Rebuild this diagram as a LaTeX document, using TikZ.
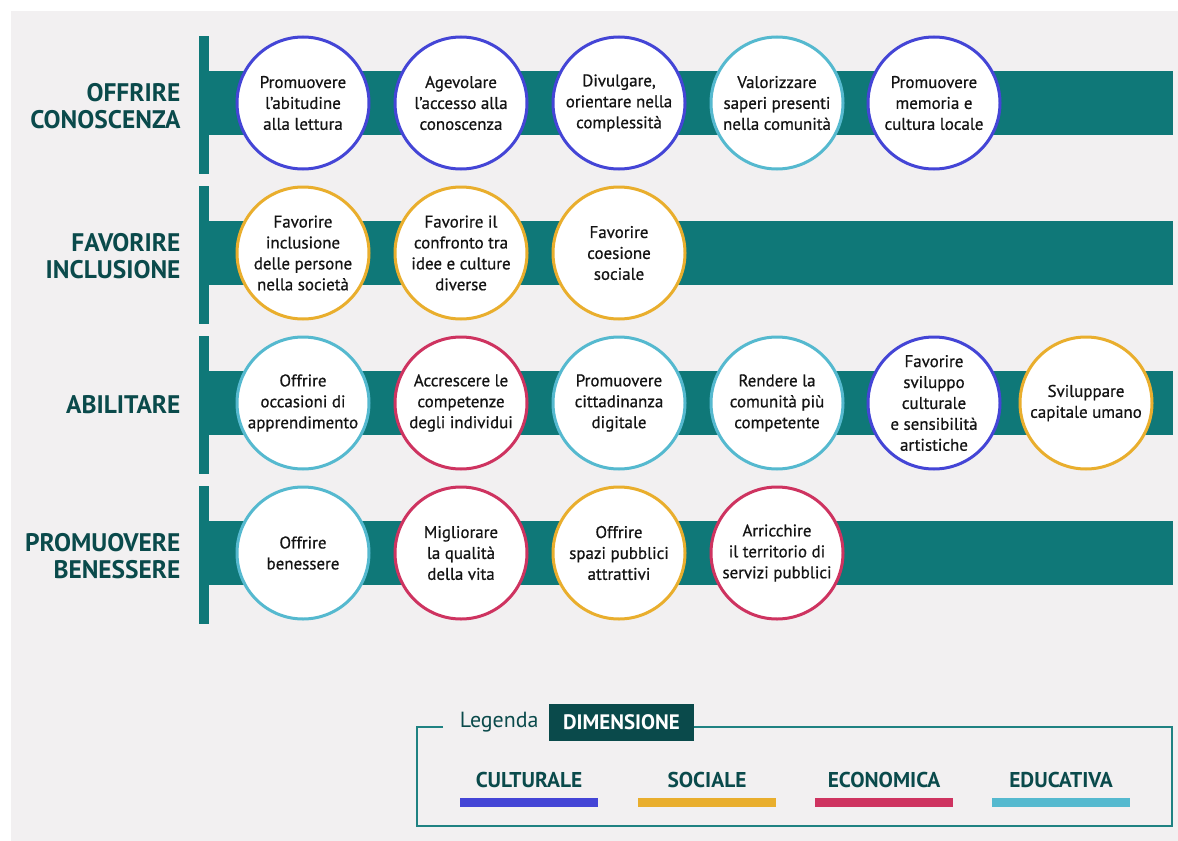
\documentclass[tikz,border=0pt]{standalone}
\usepackage{fontspec}
\setmainfont{PT Sans}
\newfontfamily\medfam{PT Sans}[FakeBold=0.7]
\definecolor{bg}{HTML}{F2F0F1}
\definecolor{band}{HTML}{0F7878}
\definecolor{dark}{HTML}{0A4A4B}
\definecolor{cult}{HTML}{4445D6}
\definecolor{soc}{HTML}{E9AE2D}
\definecolor{eco}{HTML}{CE3360}
\definecolor{edu}{HTML}{55B9CF}
\definecolor{txt}{HTML}{141414}
\definecolor{legline}{HTML}{1F8282}
\newcommand{\circfont}{\medfam\fontsize{17}{21}\selectfont}
\newcommand{\rowfont}{\fontsize{25.5}{27}\selectfont\bfseries}
\tikzset{
  bub/.style={circle, draw=#1, line width=3bp, fill=white, minimum size=132bp, inner sep=0pt, align=center, font=\circfont, text=txt},
  rowlab/.style={anchor=east, align=right, font=\rowfont, text=dark},
  legitem/.style={font=\fontsize{21.5}{24}\selectfont\bfseries, text=dark},
  legbar/.style={fill=#1, minimum width=138bp, minimum height=9bp, inner sep=0pt}
}
\begin{document}
\begin{tikzpicture}[x=1bp,y=-1bp]
\useasboundingbox (0,0) rectangle (1178,841);
\fill[bg] (11,11) rectangle (1178,841);
\foreach \k in {0,1,2,3}{
  \fill[band] (199,36+150*\k) rectangle (209,174+150*\k);
  \fill[band] (209,71+150*\k) rectangle (1173,135+150*\k);
}
% row labels
\node[rowlab] (r1) at (184,106) {OFFRIRE\\CONOSCENZA};
\node[rowlab] (r2) at (184,256) {FAVORIRE\\INCLUSIONE};
\node[rowlab] (r3) at (184,405) {ABILITARE};
\node[rowlab] (r4) at (184,556) {PROMUOVERE\\BENESSERE};
% row 1
\node[bub=cult] (c11) at (303,103) {Promuovere\\l’abitudine\\alla lettura};
\node[bub=cult] (c12) at (461,103) {Agevolare\\l’accesso alla\\conoscenza};
\node[bub=cult] (c13) at (619,103) {Divulgare,\\orientare nella\\complessità};
\node[bub=edu] (c14) at (777,103) {Valorizzare\\saperi presenti\\nella comunità};
\node[bub=cult] (c15) at (934,103) {Promuovere\\memoria e\\cultura locale};
% row 2
\node[bub=soc] (c21) at (303,253) {Favorire\\inclusione\\delle persone\\nella società};
\node[bub=soc] (c22) at (461,253) {Favorire il\\confronto tra\\idee e culture\\diverse};
\node[bub=soc] (c23) at (619,253) {Favorire\\coesione\\sociale};
% row 3
\node[bub=edu] (c31) at (303,403) {Offrire\\occasioni di\\apprendimento};
\node[bub=eco] (c32) at (461,403) {Accrescere le\\competenze\\degli individui};
\node[bub=edu] (c33) at (619,403) {Promuovere\\cittadinanza\\digitale};
\node[bub=edu] (c34) at (777,403) {Rendere la\\comunità più\\competente};
\node[bub=cult] (c35) at (934,403) {Favorire\\sviluppo\\culturale\\e sensibilità\\artistiche};
\node[bub=soc] (c36) at (1086,403) {Sviluppare\\capitale umano};
% row 4
\node[bub=edu] (c41) at (303,553) {Offrire\\benessere};
\node[bub=eco] (c42) at (461,553) {Migliorare\\la qualità\\della vita};
\node[bub=soc] (c43) at (619,553) {Offrire\\spazi pubblici\\attrattivi};
\node[bub=eco] (c44) at (777,553) {Arricchire\\il territorio di\\servizi pubblici};
% legend
\node[fill=dark, text=white, font=\fontsize{21}{22}\selectfont\bfseries, minimum width=145bp, minimum height=37bp, inner sep=0pt] (dim) at (621.5,722.5) {DIMENSIONE};
\node[anchor=east, text=dark, font=\fontsize{22}{24}\selectfont] (leg) at (542,722) {Legenda};
\coordinate (g1) at (443,727);
\coordinate (g2) at (694,727);
\draw[legline, line width=2bp] (g1) -- (417,727) -- (417,826) -- (1172,826) -- (1172,727) -- (g2);
\node[legitem] (l1) at (529,780) {CULTURALE};
\node[legitem] (l2) at (707,780) {SOCIALE};
\node[legitem] (l3) at (884,780) {ECONOMICA};
\node[legitem] (l4) at (1061,780) {EDUCATIVA};
\node[legbar=cult] (b1) at (529,802.5) {};
\node[legbar=soc] (b2) at (707,802.5) {};
\node[legbar=eco] (b3) at (884,802.5) {};
\node[legbar=edu] (b4) at (1061,802.5) {};
\end{tikzpicture}
\end{document}
